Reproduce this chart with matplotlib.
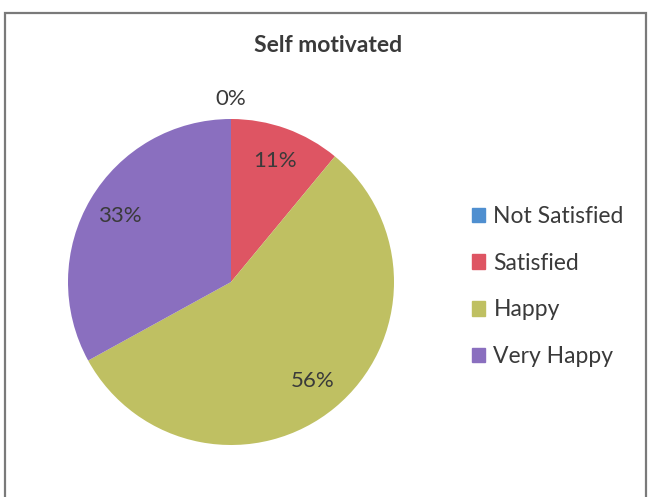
import matplotlib.pyplot as plt
from matplotlib.patches import Rectangle

categories = ["Not Satisfied", "Satisfied", "Happy", "Very Happy"]
shares = [0, 11, 56, 33]
colors = ["#4F8FD0", "#DE5563", "#BFC062", "#8A6FBF"]

plt.rcParams["font.family"] = ["Lato", "DejaVu Sans"]

fig = plt.figure(figsize=(6.54, 4.97), dpi=100)
fig.patch.set_facecolor("white")

# chart border (runs past the bottom edge)
fig.add_artist(Rectangle((4.5 / 654, -0.05), 641 / 654, 1 - 12.5 / 497 + 0.05,
                         transform=fig.transFigure, fill=False,
                         edgecolor="#7a7a7a", linewidth=1.6))

# pie centre ~ (231, 282) px, radius ~163 px
ax = fig.add_axes([(231 - 163) / 654, (497 - 282 - 163) / 497, 326 / 654, 326 / 497])
wedges, texts, autotexts = ax.pie(
    shares, colors=colors, startangle=90, counterclock=False,
    autopct=lambda p: f"{p:.0f}%", pctdistance=0.79,
    wedgeprops=dict(linewidth=0),
    textprops=dict(fontsize=16, color="#3a3a3a"),
)
# the empty slice gets its label outside the pie
autotexts[0].set_position((0, 1.12))
ax.set_xlim(-1, 1)
ax.set_ylim(-1, 1)
ax.set_aspect("equal")

fig.text(328 / 654, 1 - 46 / 497, "Self motivated", ha="center", va="center",
         fontsize=16.5, fontweight="bold", color="#3a3a3a")

handles = [Rectangle((0, 0), 1, 1, color=c) for c in colors]
fig.legend(handles, categories, loc="center left",
           bbox_to_anchor=(451 / 654, 1 - 286.5 / 497), frameon=False,
           fontsize=16.5, labelspacing=1.12, handlelength=0.6, handleheight=0.6,
           handletextpad=0.35, labelcolor="#3a3a3a")

fig.savefig("out.png", dpi=100)
